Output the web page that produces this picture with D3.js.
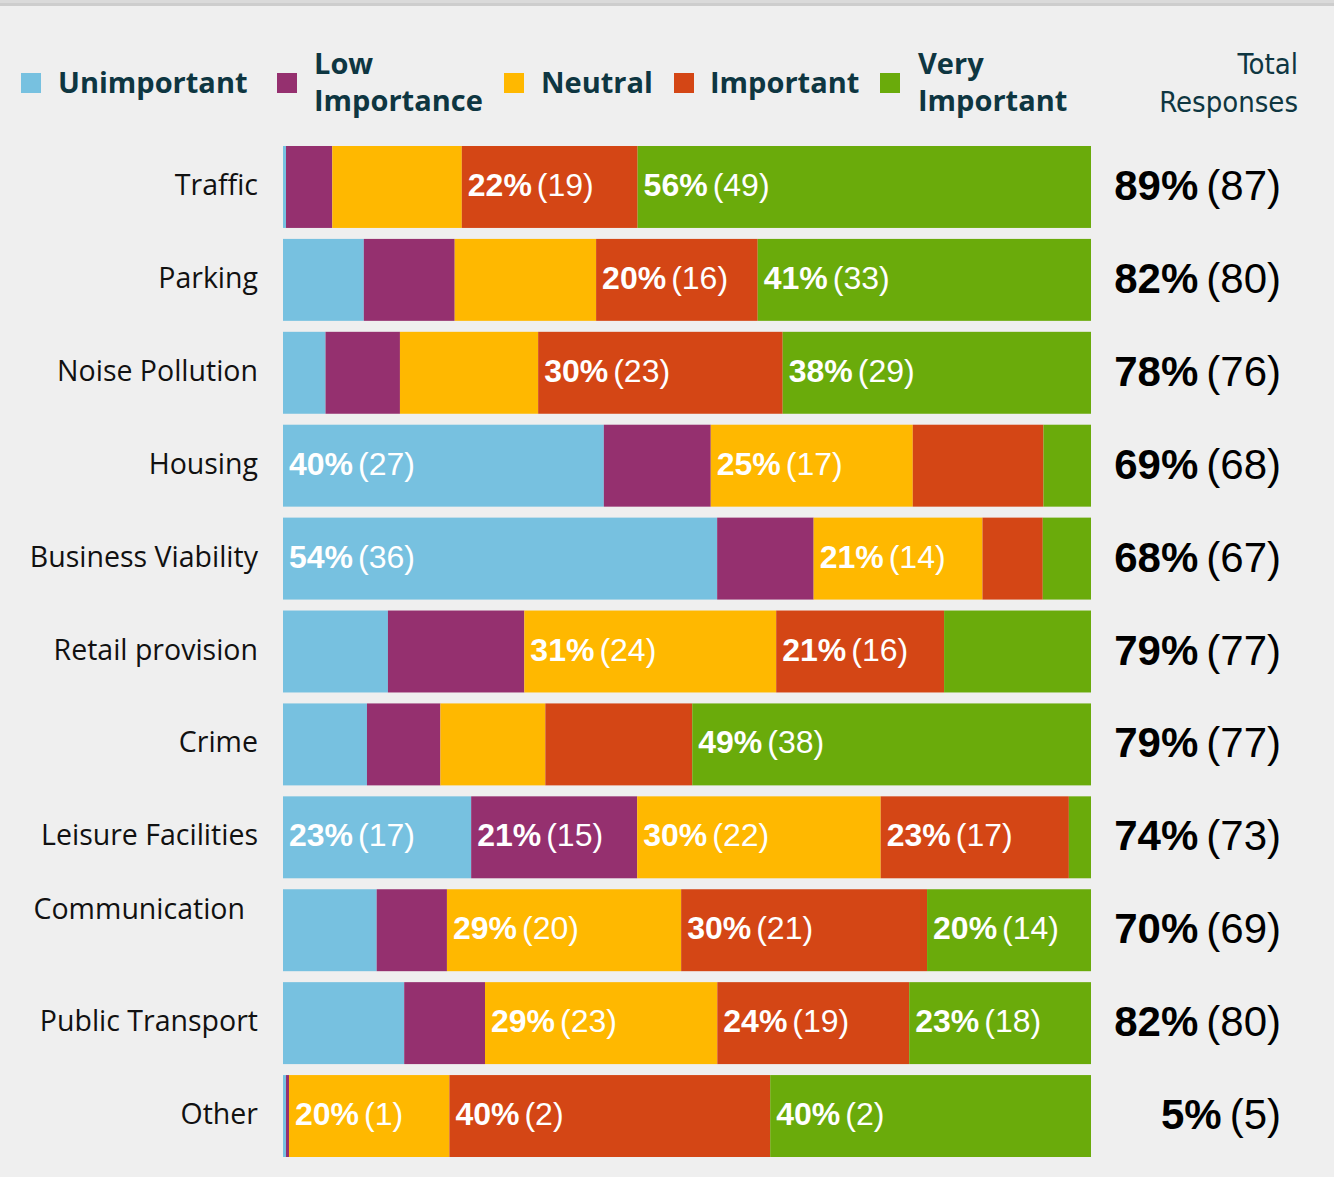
<!DOCTYPE html>
<html><head><meta charset="utf-8">
<script src="https://cdn.jsdelivr.net/npm/d3@7"></script>
<style>
html,body{margin:0;padding:0;background:#efefef;}
svg{display:block;}
</style></head>
<body>
<svg id="chart" width="1334" height="1177"></svg>
<script>
// ---- data ----
const categories = ["Traffic","Parking","Noise Pollution","Housing","Business Viability","Retail provision","Crime","Leisure Facilities","Communication","Public Transport","Other"];
const seriesNames = ["Unimportant","Low Importance","Neutral","Important","Very Important"];
const unimportant   = [0, 8, 4, 27, 36, 10, 8, 17, 8, 12, 0];
const lowImportance = [5, 9, 7, 9, 8, 13, 7, 15, 6, 8, 0];
const neutral       = [14, 14, 13, 17, 14, 24, 10, 22, 20, 23, 1];
const important     = [19, 16, 23, 11, 5, 16, 14, 17, 21, 19, 2];
const veryImportant = [49, 33, 29, 4, 4, 14, 38, 2, 14, 18, 2];
const respondents = 98;
const colors = ["#77c1e0","#95306f","#ffb800","#d44615","#6aab0b"];

const series = [unimportant, lowImportance, neutral, important, veryImportant];

const svg = d3.select("#chart");
const W = 1334, H = 1177;
svg.append("rect").attr("width",W).attr("height",H).attr("fill","#efefef");
svg.append("rect").attr("x",0).attr("y",0).attr("width",W).attr("height",3).attr("fill","#dadada");
svg.append("rect").attr("x",0).attr("y",3).attr("width",W).attr("height",3).attr("fill","#cdcdcd");

const x0 = 283, x1 = 1091;
const y = d3.scaleBand().domain(categories).range([146, 1157]).paddingInner(0.118).paddingOuter(0);

const rows = categories.map((c,i) => {
  const vals = series.map(s => s[i]);
  const total = d3.sum(vals);
  const zeros = vals.filter(v => v === 0).length;
  const minW = 3;
  const xs = d3.scaleLinear().domain([0,total]).range([0, (x1-x0) - zeros*minW]);
  let cur = x0;
  const segs = vals.map((v,k) => {
    const w = v === 0 ? minW : xs(v);
    const s = {k, v, x: cur, w, pct: Math.round(v/total*100)};
    cur += w;
    return s;
  });
  return {c, i, total, segs};
});

const g = svg.append("g");
rows.forEach(r => {
  const yy = y(r.c), bh = y.bandwidth(), cy = yy + bh/2;
  const rg = g.append("g");
  rg.selectAll("rect").data(r.segs).join("rect")
    .attr("x", d => d.x).attr("y", yy)
    .attr("width", d => d.w).attr("height", bh)
    .attr("fill", d => colors[d.k]);
  // segment labels
  r.segs.filter(d => d.pct >= 20).forEach(d => {
    const t = rg.append("text").attr("x", d.x + 6).attr("y", cy + 9)
      .attr("fill","#fff").style("font-family","'Liberation Sans', Arial, sans-serif").style("font-size","32px");
    t.append("tspan").attr("font-weight","bold").text(d.pct + "%");
    t.append("tspan").attr("dx", 5).text("(" + d.v + ")");
  });
  // category label
  const isComm = r.c === "Communication";
  rg.append("text")
    .attr("x", isComm ? 245 : 258)
    .attr("y", isComm ? cy - 11 : cy + 8)
    .attr("text-anchor","end")
    .attr("fill","#111")
    .style("font-family","'Open Sans', sans-serif").style("font-size","28.5px")
    .text(r.c);
  // total
  const tp = Math.round(r.total/respondents*100);
  const tt = rg.append("text").attr("x", 1281).attr("y", cy + 13).attr("text-anchor","end")
    .attr("fill","#000").style("font-family","'Liberation Sans', Arial, sans-serif").style("font-size","42px");
  tt.append("tspan").attr("font-weight","bold").text(tp + "%");
  tt.append("tspan").attr("dx", 8).text("(" + r.total + ")");
});

// legend
const legendItems = [
  {lines:["Unimportant"], sq:21, tx:58},
  {lines:["Low","Importance"], sq:277, tx:314},
  {lines:["Neutral"], sq:504, tx:541},
  {lines:["Important"], sq:674, tx:710},
  {lines:["Very","Important"], sq:880, tx:918}
];
const lg = svg.append("g");
legendItems.forEach((it,k) => {
  lg.append("rect").attr("x", it.sq).attr("y", 73).attr("width", 20).attr("height", 20).attr("fill", colors[k]);
  const t = lg.append("text").attr("fill","#0e3641")
    .style("font-family","'Open Sans', sans-serif").style("font-weight","700").style("font-size","29px");
  if (it.lines.length === 1) {
    t.append("tspan").attr("x", it.tx).attr("y", 93).text(it.lines[0]);
  } else {
    t.append("tspan").attr("x", it.tx).attr("y", 74).text(it.lines[0]);
    t.append("tspan").attr("x", it.tx).attr("y", 111).text(it.lines[1]);
  }
});
const th = lg.append("text").attr("fill","#0e3641").attr("text-anchor","end")
  .style("font-family","'DejaVu Sans Condensed', 'Liberation Sans Narrow', sans-serif").style("font-size","29px");
th.append("tspan").attr("x",1298).attr("y",74).text("Total");
th.append("tspan").attr("x",1298).attr("y",112).text("Responses");
</script>
</body></html>
